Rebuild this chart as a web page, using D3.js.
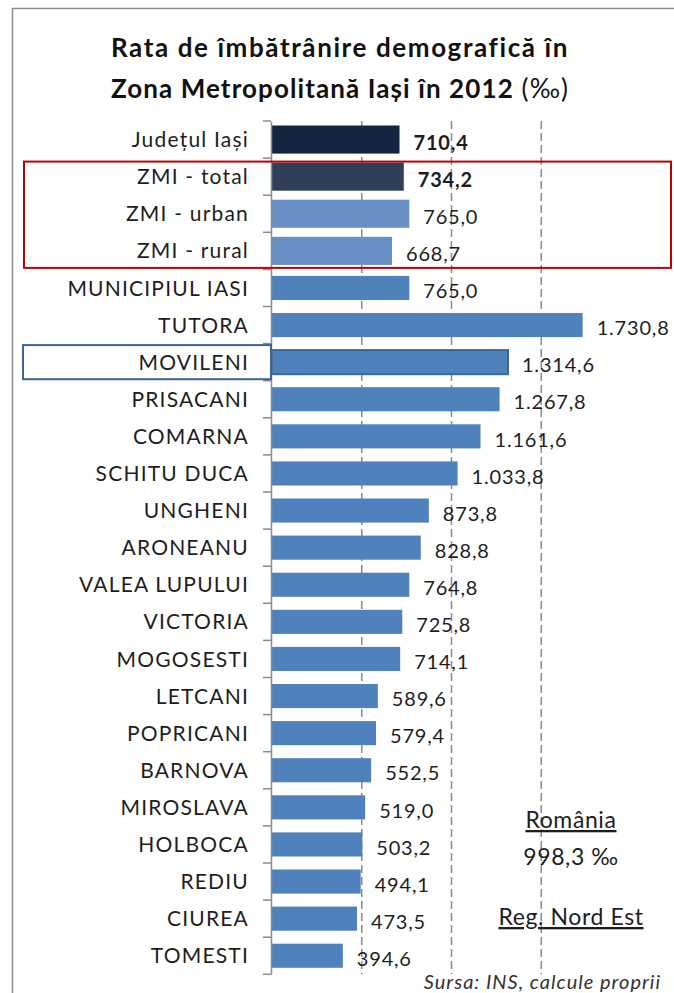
<!DOCTYPE html>
<html>
<head>
<meta charset="utf-8">
<script src="https://cdnjs.cloudflare.com/ajax/libs/d3/7.8.5/d3.min.js"></script>
<style>
  html, body { margin: 0; padding: 0; background: #fff; }
  svg { display: block; font-family: Lato, "Open Sans", sans-serif; }
</style>
</head>
<body>
<div id="chart"></div>
<script>
const categories = ['Județul Iași', 'ZMI - total', 'ZMI - urban', 'ZMI - rural', 'MUNICIPIUL IASI',
  'TUTORA', 'MOVILENI', 'PRISACANI', 'COMARNA', 'SCHITU DUCA', 'UNGHENI', 'ARONEANU',
  'VALEA LUPULUI', 'VICTORIA', 'MOGOSESTI', 'LETCANI', 'POPRICANI', 'BARNOVA',
  'MIROSLAVA', 'HOLBOCA', 'REDIU', 'CIUREA', 'TOMESTI'];
const values = [710.4, 734.2, 765.0, 668.7, 765.0, 1730.8, 1314.6, 1267.8, 1161.6, 1033.8,
  873.8, 828.8, 764.8, 725.8, 714.1, 589.6, 579.4, 552.5, 519.0, 503.2, 494.1, 473.5, 394.6];
const gridTicks = [500, 1000, 1500];
const titleLines = ['Rata de îmbătrânire demografică în', 'Zona Metropolitană Iași în 2012'];
const notes = ['România', '998,3 ‰', 'Reg. Nord Est'];
const source = 'Sursa: INS, calcule proprii';

const W = 674, H = 993;
const svg = d3.select('#chart').append('svg')
  .attr('width', W).attr('height', H);

// chart frame (right and bottom edges are cut off)
svg.append('path')
  .attr('d', `M12.5,${H} V8.5 H${W}`)
  .attr('fill', 'none').attr('stroke', '#8c8c8c').attr('stroke-width', 1.5);

const x = d3.scaleLinear().domain([0, 2000]).range([272, 631]);
const y = d3.scaleBand().domain(categories).range([121, 974.3]);

const fmt = d3.formatLocale({ decimal: ',', thousands: '.', grouping: [3], currency: ['', ''] }).format(',.1f');

// title
const title = svg.append('text')
  .attr('text-anchor', 'middle')
  .attr('font-weight', 'bold').attr('font-size', 26).attr('fill', '#111');
title.append('tspan').attr('x', 340).attr('y', 57)
  .style('letter-spacing', '1.6px').text(titleLines[0]);
const t2 = title.append('tspan').attr('x', 340).attr('y', 98)
  .style('letter-spacing', '1.1px').text(titleLines[1]);
title.append('tspan').attr('font-weight', 'normal')
  .style('letter-spacing', '1.1px').text(' (‰)');

// dashed gridlines
svg.append('g').selectAll('line')
  .data(gridTicks).join('line')
  .attr('x1', d => x(d)).attr('x2', d => x(d))
  .attr('y1', y.range()[0]).attr('y2', y.range()[1])
  .attr('stroke', '#8a8a8a').attr('stroke-width', 1.5)
  .attr('stroke-dasharray', '8,4');

function barColor(i) {
  if (i === 0) return '#14263f';
  if (i === 1) return '#2f3f5a';
  if (i === 2 || i === 3) return '#6890c5';
  return '#4f81bd';
}
function barPad(i) { return i < 4 ? 4.5 : 6.5; }

// bars
svg.append('g').selectAll('rect')
  .data(values).join('rect')
  .attr('x', x(0))
  .attr('y', (d, i) => y(categories[i]) + barPad(i))
  .attr('width', d => x(d) - x(0))
  .attr('height', (d, i) => y.bandwidth() - 2 * barPad(i))
  .attr('fill', (d, i) => barColor(i))
  .attr('stroke', (d, i) => categories[i] === 'MOVILENI' ? '#3a6595' : 'none')
  .attr('stroke-width', 2);

// category axis
const axis = svg.append('g').attr('transform', 'translate(271,0)')
  .call(d3.axisLeft(y).tickSize(0).tickPadding(22).tickFormat(d => d));
axis.select('.domain').attr('stroke', '#8c8c8c').attr('stroke-width', 1.5);
axis.selectAll('text')
  .attr('font-family', 'Lato, "Open Sans", sans-serif')
  .attr('font-size', 21).attr('fill', '#1e1e1e')
  .style('letter-spacing', '1.2px')
  .attr('dy', '0.36em');
// ticks at category boundaries
svg.append('g').selectAll('line')
  .data(categories.concat([null])).join('line')
  .attr('x1', 263).attr('x2', 271)
  .attr('y1', (d, i) => y.range()[0] + i * y.step())
  .attr('y2', (d, i) => y.range()[0] + i * y.step())
  .attr('stroke', '#8c8c8c').attr('stroke-width', 1.5);

// data labels
svg.append('g').selectAll('text')
  .data(values).join('text')
  .attr('x', d => x(d) + 14)
  .attr('y', (d, i) => y(categories[i]) + y.bandwidth() / 2 + 3)
  .attr('dy', '0.36em')
  .attr('font-size', 20).attr('fill', '#1e1e1e')
  .style('letter-spacing', '0.8px')
  .attr('font-weight', (d, i) => i < 2 ? 'bold' : 'normal')
  .text(d => fmt(d));

// highlight boxes
const ztop = y(categories[1]) + 3.5;
const zbot = y(categories[3]) + y.bandwidth() - 1.5;
svg.append('rect')
  .attr('x', 24).attr('y', ztop).attr('width', 647).attr('height', zbot - ztop)
  .attr('fill', 'none').attr('stroke', '#c00000').attr('stroke-width', 2);
const mov = y('MOVILENI');
svg.append('rect')
  .attr('x', 23).attr('y', mov + 1.5).attr('width', 248).attr('height', y.bandwidth() - 3)
  .attr('fill', 'none').attr('stroke', '#3a6595').attr('stroke-width', 2);

// notes
const noteStyle = s => s.attr('text-anchor', 'middle').attr('font-size', 23)
  .attr('fill', '#1e1e1e').style('letter-spacing', '0.6px');
svg.append('text').attr('x', 571).attr('y', 828).call(noteStyle)
  .style('text-decoration', 'underline').text(notes[0]);
svg.append('text').attr('x', 571).attr('y', 865).call(noteStyle).text(notes[1]);
svg.append('text').attr('x', 571).attr('y', 925).call(noteStyle)
  .style('text-decoration', 'underline').text(notes[2]);

svg.append('text').attr('x', 661).attr('y', 989).attr('text-anchor', 'end')
  .attr('font-size', 20).attr('font-style', 'italic').attr('fill', '#333')
  .style('letter-spacing', '1px')
  .text(source);
</script>
</body>
</html>
